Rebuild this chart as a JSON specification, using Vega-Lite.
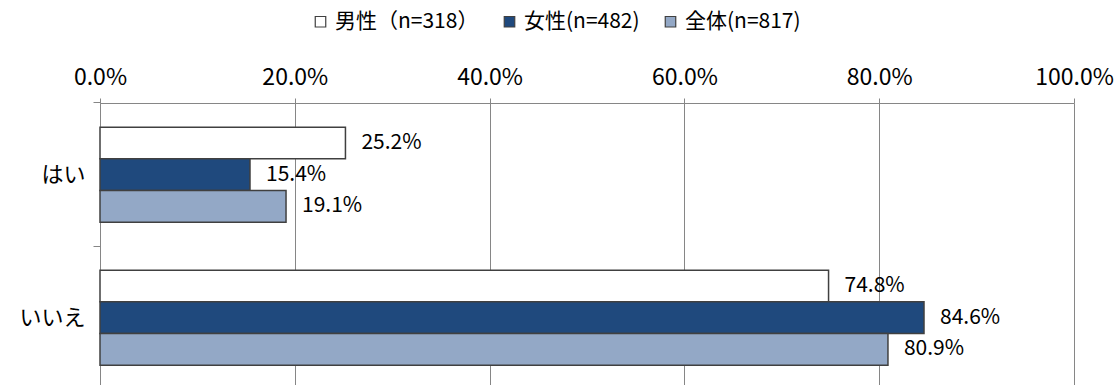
{
  "$schema": "https://vega.github.io/schema/vega-lite/v6.json",
  "width": 974,
  "height": 282,
  "autosize": {"type": "none"},
  "padding": {"left": 100, "top": 103, "right": 44, "bottom": 0},
  "background": "white",
  "config": {
    "font": "Noto Sans CJK JP",
    "view": {"stroke": null},
    "axis": {"labelFont": "Noto Sans CJK JP", "labelColor": "#000000"}
  },
  "data": {
    "values": [
      {"cat": "はい", "group": "男性（n=318）", "value": 0.252},
      {"cat": "はい", "group": "女性(n=482)", "value": 0.154},
      {"cat": "はい", "group": "全体(n=817)", "value": 0.191},
      {"cat": "いいえ", "group": "男性（n=318）", "value": 0.748},
      {"cat": "いいえ", "group": "女性(n=482)", "value": 0.846},
      {"cat": "いいえ", "group": "全体(n=817)", "value": 0.809}
    ]
  },
  "encoding": {
    "y": {
      "field": "cat",
      "type": "nominal",
      "sort": ["はい", "いいえ"],
      "scale": {"paddingInner": 0.3357, "paddingOuter": 0.1538, "align": 0.55},
      "axis": {
        "title": null,
        "bandPosition": -0.2547,
        "tickSize": 7,
        "tickColor": "#868686",
        "domainColor": "#868686",
        "labelFontSize": 22,
        "labelPadding": 8,
        "grid": false
      }
    },
    "yOffset": {
      "field": "group",
      "type": "nominal",
      "sort": ["男性（n=318）", "女性(n=482)", "全体(n=817)"],
      "scale": {"paddingInner": 0, "paddingOuter": 0}
    },
    "x": {
      "field": "value",
      "type": "quantitative",
      "scale": {"domain": [0, 1], "nice": false},
      "axis": {
        "orient": "top",
        "title": null,
        "values": [0, 0.2, 0.4, 0.6, 0.8, 1],
        "format": ".1%",
        "labelFlush": false,
        "labelFontSize": 23,
        "labelPadding": 9,
        "tickSize": 5,
        "tickColor": "#868686",
        "domainColor": "#868686",
        "grid": true,
        "gridColor": "#868686",
        "gridWidth": 1
      }
    }
  },
  "layer": [
    {
      "mark": {"type": "bar", "stroke": "#404040", "strokeWidth": 1.5},
      "encoding": {
        "color": {
          "field": "group",
          "type": "nominal",
          "sort": ["男性（n=318）", "女性(n=482)", "全体(n=817)"],
          "scale": {
            "domain": ["男性（n=318）", "女性(n=482)", "全体(n=817)"],
            "range": ["#ffffff", "#1f497d", "#93a8c6"]
          },
          "legend": {
            "orient": "none",
            "direction": "horizontal",
            "legendX": 210,
            "legendY": -92,
            "title": null,
            "symbolType": "square",
            "symbolSize": 110,
            "symbolStrokeColor": "#404040",
            "symbolStrokeWidth": 1.2,
            "labelFontSize": 21,
            "labelLimit": 0,
            "labelOffset": 4,
            "columnPadding": 20
          }
        }
      }
    },
    {
      "mark": {"type": "text", "align": "left", "baseline": "middle", "dx": 16, "fontSize": 21, "color": "#000000"},
      "encoding": {
        "text": {"field": "value", "type": "quantitative", "format": ".1%"}
      }
    }
  ]
}
